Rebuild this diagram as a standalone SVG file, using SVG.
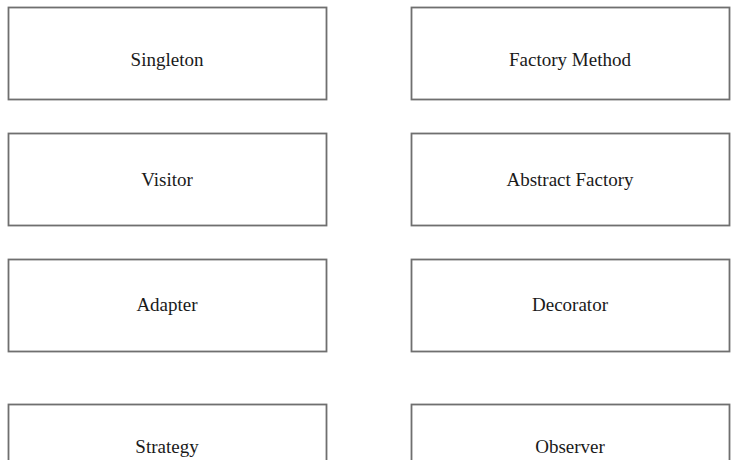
<svg xmlns="http://www.w3.org/2000/svg" width="754" height="460" viewBox="0 0 754 460">
<style>
.box{fill:#ffffff;stroke:#6f6f6f;stroke-width:1.8}
.lbl{font-family:"Liberation Serif","Times New Roman",serif;font-size:19px;fill:#1a1a1a;text-anchor:middle}
</style>
<rect width="754" height="460" fill="#ffffff"/>
<g id="singleton"><rect class="box" x="8.5" y="7.5" width="318" height="92"/><text class="lbl" x="167" y="66">Singleton</text></g>
<g id="visitor"><rect class="box" x="8.5" y="133.5" width="318" height="92"/><text class="lbl" x="167" y="186">Visitor</text></g>
<g id="adapter"><rect class="box" x="8.5" y="259.5" width="318" height="92"/><text class="lbl" x="167" y="311">Adapter</text></g>
<g id="strategy"><rect class="box" x="8.5" y="404.5" width="318" height="92"/><text class="lbl" x="167" y="453">Strategy</text></g>
<g id="factory-method"><rect class="box" x="411.5" y="7.5" width="318" height="92"/><text class="lbl" x="570" y="66">Factory Method</text></g>
<g id="abstract-factory"><rect class="box" x="411.5" y="133.5" width="318" height="92"/><text class="lbl" x="570" y="186">Abstract Factory</text></g>
<g id="decorator"><rect class="box" x="411.5" y="259.5" width="318" height="92"/><text class="lbl" x="570" y="311">Decorator</text></g>
<g id="observer"><rect class="box" x="411.5" y="404.5" width="318" height="92"/><text class="lbl" x="570" y="453">Observer</text></g>
<g id="connectors"></g>
</svg>
